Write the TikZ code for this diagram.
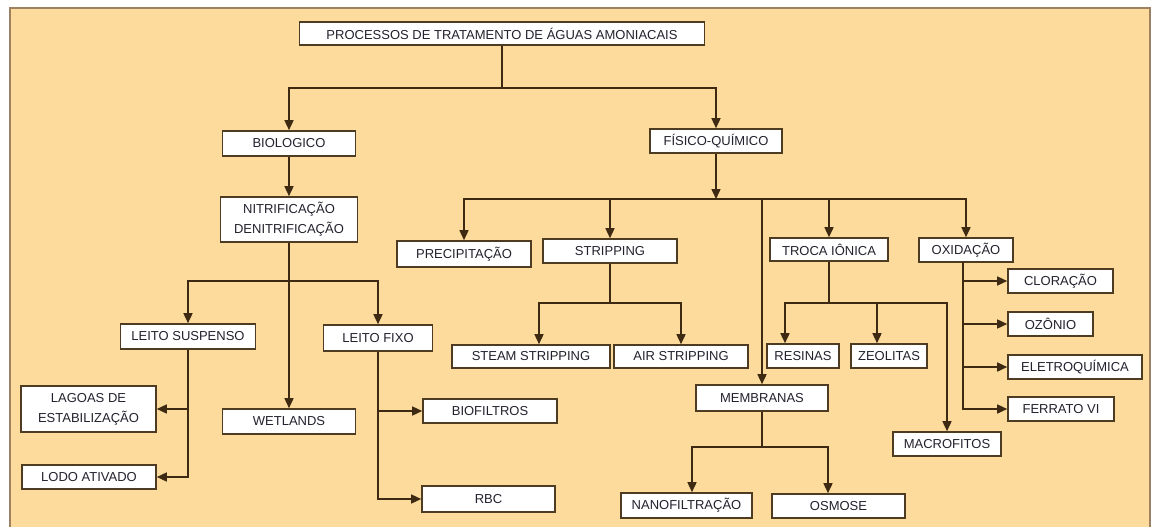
\documentclass[tikz,border=0pt]{standalone}
\usepackage{fontspec}
\setmainfont{Liberation Sans}
\usetikzlibrary{arrows.meta}
\definecolor{bgfill}{HTML}{FCDB9C}
\definecolor{bgline}{HTML}{9C8262}
\definecolor{boxline}{HTML}{4E3C22}
\definecolor{conn}{HTML}{3E2A12}
\definecolor{txt}{HTML}{22222E}
\tikzset{
  box/.style={draw=boxline, line width=1.6pt, fill=white, inner sep=1pt, align=center,
    text=txt, font=\fontsize{13}{20}\selectfont},
  link/.style={draw=conn, line width=1.5pt},
  arr/.style={link, -{Triangle[length=10pt,width=9pt]}},
}
\begin{document}
\begin{tikzpicture}[x=1pt,y=-1pt]
\useasboundingbox (0,0) rectangle (1153,527);
\fill[bgfill] (10,8) rectangle (1150,527);
\draw[bgline, line width=1.5pt] (10,527) -- (10,8) -- (1150,8) -- (1150,527);

% nodes
\node[box, minimum width=405, minimum height=23] (title) at (502,33.5) {PROCESSOS DE TRATAMENTO DE ÁGUAS AMONIACAIS};
\node[box, minimum width=133, minimum height=25] (bio) at (289,143.5) {BIOLOGICO};
\node[box, minimum width=132, minimum height=24] (fq) at (716,141) {FÍSICO-QUÍMICO};
\node[box, minimum width=137, minimum height=45] (nit) at (289,219.5) {NITRIFICAÇÃO\\DENITRIFICAÇÃO};
\node[box, minimum width=135, minimum height=25] (ls) at (188,336.5) {LEITO SUSPENSO};
\node[box, minimum width=109, minimum height=26] (lf) at (378,338) {LEITO FIXO};
\node[box, minimum width=133, minimum height=25] (wet) at (289,421.5) {WETLANDS};
\node[box, minimum width=135, minimum height=46] (lag) at (88.5,409) {LAGOAS DE\\ESTABILIZAÇÃO};
\node[box, minimum width=134, minimum height=24] (lodo) at (89,477) {LODO ATIVADO};
\node[box, minimum width=134, minimum height=24] (biof) at (490,411) {BIOFILTROS};
\node[box, minimum width=133, minimum height=26] (rbc) at (488.5,499) {RBC};
\node[box, minimum width=134, minimum height=26] (prec) at (464,254) {PRECIPITAÇÃO};
\node[box, minimum width=134, minimum height=24] (strip) at (610,251) {STRIPPING};
\node[box, minimum width=118, minimum height=23] (troca) at (829,249.5) {TROCA IÔNICA};
\node[box, minimum width=94, minimum height=24] (oxi) at (966,250) {OXIDAÇÃO};
\node[box, minimum width=158, minimum height=23] (steam) at (531,356.5) {STEAM STRIPPING};
\node[box, minimum width=134, minimum height=23] (air) at (681,356.5) {AIR STRIPPING};
\node[box, minimum width=132, minimum height=26] (memb) at (762,398) {MEMBRANAS};
\node[box, minimum width=131, minimum height=25] (nano) at (686.5,505.5) {NANOFILTRAÇÃO};
\node[box, minimum width=133, minimum height=24] (osm) at (838.5,506) {OSMOSE};
\node[box, minimum width=72, minimum height=24] (res) at (803,356) {RESINAS};
\node[box, minimum width=76, minimum height=24] (zeo) at (889,356) {ZEOLITAS};
\node[box, minimum width=108, minimum height=24] (macro) at (947,444) {MACROFITOS};
\node[box, minimum width=105, minimum height=24] (clor) at (1060.5,281) {CLORAÇÃO};
\node[box, minimum width=85, minimum height=24] (ozo) at (1050.5,324) {OZÔNIO};
\node[box, minimum width=134, minimum height=24] (elet) at (1075,367) {ELETROQUÍMICA};
\node[box, minimum width=106, minimum height=24] (ferr) at (1061,409) {FERRATO VI};

% junctions
\coordinate (t1) at (502,88);
\coordinate (n1) at (289,281);
\coordinate (f1) at (716,199);
\coordinate (s1) at (610,303);
\coordinate (r1) at (829,303);
\coordinate (m1) at (762,447);
\coordinate (o0) at (963,262);

% connectors
\draw[link] (title.south) -- (t1);
\draw[arr] (t1) -| (bio.north);
\draw[arr] (t1) -| (fq.north);
\draw[arr] (bio.south) -- (nit.north);
\draw[arr] (nit.south) -- (wet.north);
\draw[arr] (n1) -| (ls.north);
\draw[arr] (n1) -| (lf.north);
\draw[arr] (ls.south) |- (lodo.east);
\draw[arr] (ls.south |- lag.east) -- (lag.east);
\draw[arr] (lf.south) |- (rbc.west);
\draw[arr] (lf.south |- biof.west) -- (biof.west);

\draw[arr] (fq.south) -- (f1);
\draw[arr] (f1) -| (prec.north);
\draw[arr] (f1) -| (strip.north);
\draw[arr] (f1) -| (memb.north);
\draw[arr] (f1) -| (troca.north);
\draw[arr] (f1) -| (oxi.north);

\draw[link] (strip.south) -- (s1);
\draw[arr] (s1) -| ([xshift=8]steam.north);
\draw[arr] (s1) -| (air.north);

\draw[link] (memb.south) -- (m1);
\draw[arr] (m1) -| ([xshift=5.5]nano.north);
\draw[arr] (m1) -| ([xshift=-10.5]osm.north);

\draw[link] (troca.south) -- (r1);
\draw[arr] (r1) -| ([xshift=-18]res.north);
\draw[arr] (r1) -| ([xshift=-12]zeo.north);
\draw[arr] (r1) -| (macro.north);

\draw[arr] (o0) |- (ferr.west);
\draw[arr] (o0 |- clor.west) -- (clor.west);
\draw[arr] (o0 |- ozo.west) -- (ozo.west);
\draw[arr] (o0 |- elet.west) -- (elet.west);
\end{tikzpicture}
\end{document}
